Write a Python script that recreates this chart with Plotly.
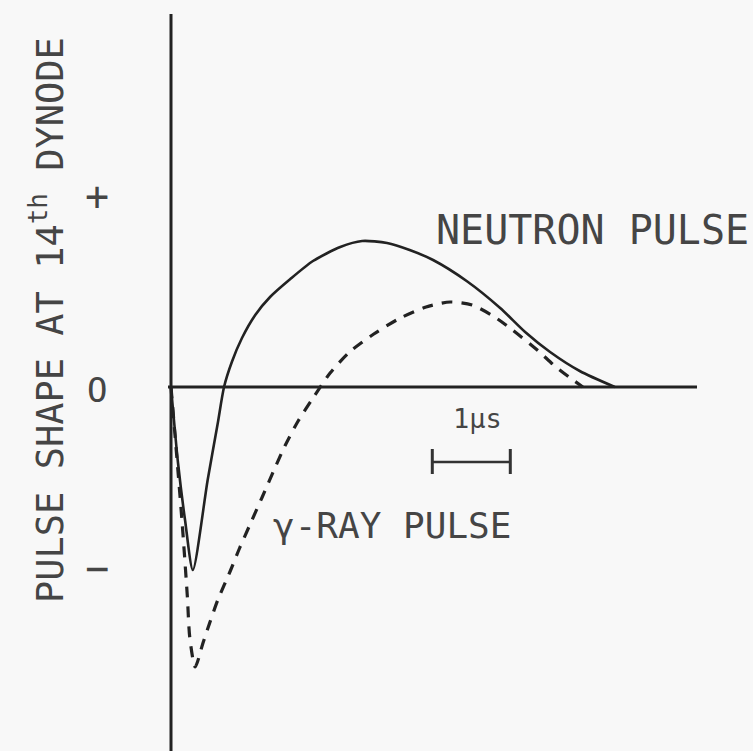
import plotly.graph_objects as go

# ---- data (time in microseconds, pulse amplitude in arbitrary units) ----
neutron_t = [0.00, 0.09, 0.18, 0.28, 0.47, 0.60, 0.68, 0.78, 0.91, 1.08, 1.27, 1.53, 1.82,
             2.17, 2.45, 2.77, 3.06, 3.36, 3.79, 4.22, 4.54, 4.86, 5.24, 5.69]
neutron_v = [0.00, -0.76, -1.33, -1.83, -0.93, -0.36, 0.00, 0.25, 0.49, 0.72, 0.90, 1.08,
             1.26, 1.40, 1.46, 1.44, 1.37, 1.27, 1.06, 0.79, 0.55, 0.35, 0.16, 0.00]

gamma_t = [0.00, 0.14, 0.21, 0.24, 0.31, 0.41, 0.50, 0.60, 0.76, 0.88, 1.01, 1.17, 1.31,
           1.46, 1.63, 1.82, 2.04, 2.29, 2.60, 2.94, 3.27, 3.58, 3.86, 4.13, 4.38, 4.71,
           4.92, 5.12, 5.28]
gamma_v = [0.00, -1.33, -2.10, -2.50, -2.80, -2.56, -2.35, -2.13, -1.84, -1.61, -1.38,
           -1.10, -0.85, -0.59, -0.34, -0.11, 0.14, 0.35, 0.53, 0.69, 0.80, 0.85, 0.82,
           0.71, 0.57, 0.36, 0.21, 0.09, 0.00]

scale_bar_start = 3.35   # microseconds
scale_bar_length = 1.0   # 1 microsecond
scale_label = "1μs"

y_label = "PULSE SHAPE AT 14<sup>th</sup> DYNODE"
sign_labels = ["+", "O", "−"]
neutron_label = "NEUTRON PULSE"
gamma_label = "γ-RAY PULSE"

# ---- pixel-to-data helpers for layout placement ----
W, H = 753, 751
X0, Y0 = 171, 387          # pixel position of the origin
SX, SY = 78.0, 100.0       # pixels per unit


def px(x):
    return (x - X0) / SX


def py(y):
    return (Y0 - y) / SY


ink = "#222222"
txt = "#454545"
font_fam = "DejaVu Sans Mono"

fig = go.Figure()

fig.add_trace(go.Scatter(
    x=neutron_t, y=neutron_v, mode="lines",
    line=dict(color=ink, width=2.6, shape="spline", smoothing=0.7),
    hoverinfo="skip", showlegend=False))

fig.add_trace(go.Scatter(
    x=gamma_t, y=gamma_v, mode="lines",
    line=dict(color=ink, width=3.2, shape="spline", smoothing=0.7, dash="11px,9px"),
    hoverinfo="skip", showlegend=False))

# axes drawn as hand-drawn lines
shapes = [
    dict(type="line", x0=0, x1=0, y0=py(H + 10), y1=py(14), line=dict(color=ink, width=3)),
    dict(type="line", x0=px(168), x1=px(697), y0=0, y1=0, line=dict(color=ink, width=3)),
]
# 1 microsecond scale bar
bar_y = py(462)
bx0 = scale_bar_start
bx1 = scale_bar_start + scale_bar_length
shapes += [
    dict(type="line", x0=bx0, x1=bx1, y0=bar_y, y1=bar_y, line=dict(color="#333333", width=2.5)),
    dict(type="line", x0=bx0, x1=bx0, y0=py(449), y1=py(474), line=dict(color="#333333", width=3)),
    dict(type="line", x0=bx1, x1=bx1, y0=py(449), y1=py(474), line=dict(color="#333333", width=3)),
]

annotations = [
    dict(x=px(47), y=py(320), text=y_label, textangle=-90, showarrow=False,
         font=dict(family=font_fam, size=37, color=txt), xanchor="center", yanchor="middle"),
    dict(x=px(97), y=py(196), text=sign_labels[0], showarrow=False,
         font=dict(family=font_fam, size=40, color=txt)),
    dict(x=px(97), y=py(390), text=sign_labels[1], showarrow=False,
         font=dict(family=font_fam, size=34, color=txt)),
    dict(x=px(97), y=py(568), text=sign_labels[2], showarrow=False,
         font=dict(family=font_fam, size=40, color=txt)),
    dict(x=px(592), y=py(230), text=neutron_label, showarrow=False,
         font=dict(family=font_fam, size=40, color=txt)),
    dict(x=px(392), y=py(525), text=gamma_label, showarrow=False,
         font=dict(family=font_fam, size=36, color=txt)),
    dict(x=px(477), y=py(418), text=scale_label, showarrow=False,
         font=dict(family=font_fam, size=27, color=txt)),
]

fig.update_layout(
    width=W, height=H,
    margin=dict(l=0, r=0, t=0, b=0),
    paper_bgcolor="#f8f8f8", plot_bgcolor="#f8f8f8",
    xaxis=dict(range=[px(0), px(W)], visible=False, fixedrange=True),
    yaxis=dict(range=[py(H), py(0)], visible=False, fixedrange=True),
    shapes=shapes, annotations=annotations,
)

fig.write_html(
    "out.html",
    config={"displayModeBar": False},
    post_script="document.body.style.margin='0px';document.body.style.overflow='hidden';",
)
